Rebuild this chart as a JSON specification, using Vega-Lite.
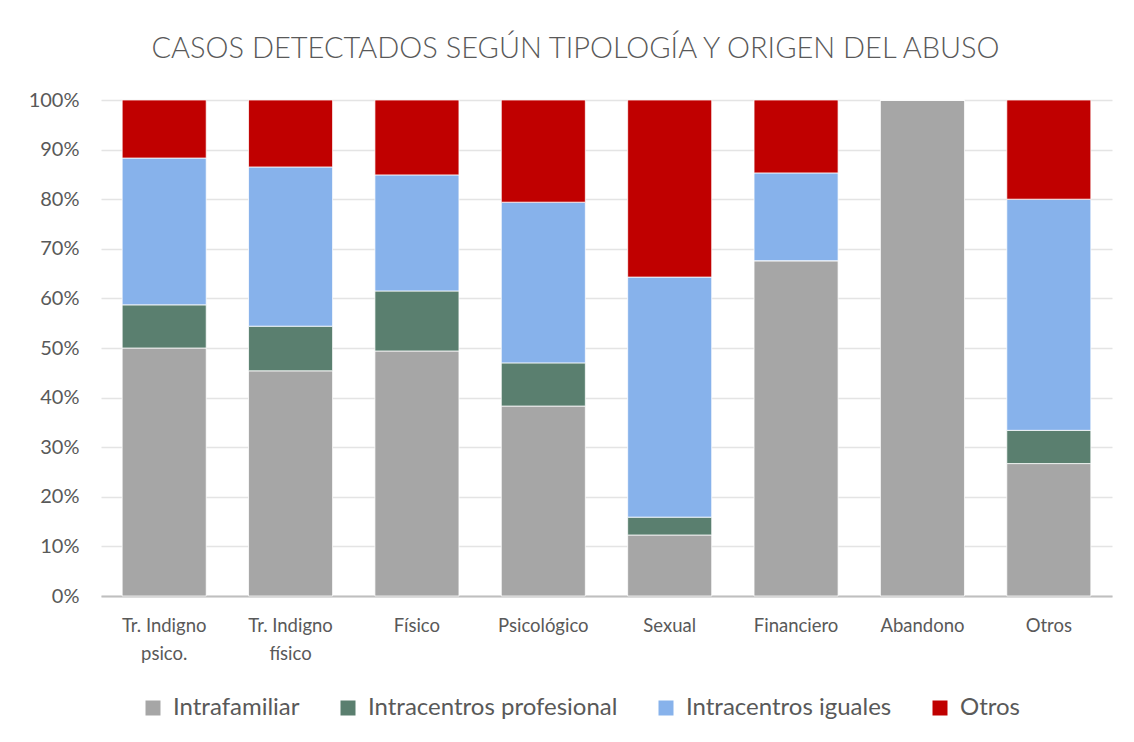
{
  "$schema": "https://vega.github.io/schema/vega-lite/v6.json",
  "width": 1011,
  "height": 496,
  "autosize": {"type": "none"},
  "padding": {"left": 101, "top": 100, "right": 22, "bottom": 146},
  "background": "white",
  "title": {
    "text": "CASOS DETECTADOS SEGÚN TIPOLOGÍA Y ORIGEN DEL ABUSO",
    "font": "Lato",
    "fontSize": 29,
    "fontWeight": 300,
    "color": "#595959",
    "anchor": "middle",
    "frame": "group",
    "dx": -31,
    "offset": 26
  },
  "data": {
    "values": [
      {"tipo": "Tr. Indigno psico.", "origen": "Intrafamiliar", "orden": 1, "v": 0.500},
      {"tipo": "Tr. Indigno psico.", "origen": "Intracentros profesional", "orden": 2, "v": 0.087},
      {"tipo": "Tr. Indigno psico.", "origen": "Intracentros iguales", "orden": 3, "v": 0.296},
      {"tipo": "Tr. Indigno psico.", "origen": "Otros", "orden": 4, "v": 0.117},
      {"tipo": "Tr. Indigno físico", "origen": "Intrafamiliar", "orden": 1, "v": 0.454},
      {"tipo": "Tr. Indigno físico", "origen": "Intracentros profesional", "orden": 2, "v": 0.090},
      {"tipo": "Tr. Indigno físico", "origen": "Intracentros iguales", "orden": 3, "v": 0.321},
      {"tipo": "Tr. Indigno físico", "origen": "Otros", "orden": 4, "v": 0.135},
      {"tipo": "Físico", "origen": "Intrafamiliar", "orden": 1, "v": 0.494},
      {"tipo": "Físico", "origen": "Intracentros profesional", "orden": 2, "v": 0.121},
      {"tipo": "Físico", "origen": "Intracentros iguales", "orden": 3, "v": 0.234},
      {"tipo": "Físico", "origen": "Otros", "orden": 4, "v": 0.151},
      {"tipo": "Psicológico", "origen": "Intrafamiliar", "orden": 1, "v": 0.383},
      {"tipo": "Psicológico", "origen": "Intracentros profesional", "orden": 2, "v": 0.087},
      {"tipo": "Psicológico", "origen": "Intracentros iguales", "orden": 3, "v": 0.324},
      {"tipo": "Psicológico", "origen": "Otros", "orden": 4, "v": 0.206},
      {"tipo": "Sexual", "origen": "Intrafamiliar", "orden": 1, "v": 0.123},
      {"tipo": "Sexual", "origen": "Intracentros profesional", "orden": 2, "v": 0.036},
      {"tipo": "Sexual", "origen": "Intracentros iguales", "orden": 3, "v": 0.484},
      {"tipo": "Sexual", "origen": "Otros", "orden": 4, "v": 0.357},
      {"tipo": "Financiero", "origen": "Intrafamiliar", "orden": 1, "v": 0.676},
      {"tipo": "Financiero", "origen": "Intracentros profesional", "orden": 2, "v": 0.0},
      {"tipo": "Financiero", "origen": "Intracentros iguales", "orden": 3, "v": 0.177},
      {"tipo": "Financiero", "origen": "Otros", "orden": 4, "v": 0.147},
      {"tipo": "Abandono", "origen": "Intrafamiliar", "orden": 1, "v": 1.0},
      {"tipo": "Abandono", "origen": "Intracentros profesional", "orden": 2, "v": 0.0},
      {"tipo": "Abandono", "origen": "Intracentros iguales", "orden": 3, "v": 0.0},
      {"tipo": "Abandono", "origen": "Otros", "orden": 4, "v": 0.0},
      {"tipo": "Otros", "origen": "Intrafamiliar", "orden": 1, "v": 0.267},
      {"tipo": "Otros", "origen": "Intracentros profesional", "orden": 2, "v": 0.067},
      {"tipo": "Otros", "origen": "Intracentros iguales", "orden": 3, "v": 0.466},
      {"tipo": "Otros", "origen": "Otros", "orden": 4, "v": 0.200}
    ]
  },
  "mark": {"type": "bar", "stroke": "white", "strokeWidth": 0.75},
  "encoding": {
    "x": {
      "field": "tipo",
      "type": "nominal",
      "sort": ["Tr. Indigno psico.", "Tr. Indigno físico", "Físico", "Psicológico", "Sexual", "Financiero", "Abandono", "Otros"],
      "scale": {"paddingInner": 0.335, "paddingOuter": 0.1675},
      "axis": {
        "title": null,
        "labelAngle": 0,
        "labelExpr": "datum.label == 'Tr. Indigno psico.' ? ['Tr. Indigno', 'psico.'] : datum.label == 'Tr. Indigno físico' ? ['Tr. Indigno', 'físico'] : datum.label",
        "labelFont": "Lato",
        "labelFontSize": 18.5,
        "labelColor": "#595959",
        "labelPadding": 20,
        "labelLineHeight": 28,
        "ticks": false,
        "domainColor": "#bfbfbf",
        "domainWidth": 2
      }
    },
    "y": {
      "field": "v",
      "type": "quantitative",
      "stack": "zero",
      "scale": {"domain": [0, 1], "nice": false},
      "axis": {
        "title": null,
        "format": ".0%",
        "values": [0, 0.1, 0.2, 0.3, 0.4, 0.5, 0.6, 0.7, 0.8, 0.9, 1.0],
        "labelFont": "Lato",
        "labelFontSize": 20,
        "labelColor": "#595959",
        "labelPadding": 22,
        "ticks": false,
        "domain": false,
        "grid": true,
        "gridColor": "#e4e4e4",
        "gridWidth": 1.5
      }
    },
    "color": {
      "field": "origen",
      "type": "nominal",
      "sort": ["Intrafamiliar", "Intracentros profesional", "Intracentros iguales", "Otros"],
      "scale": {
        "domain": ["Intrafamiliar", "Intracentros profesional", "Intracentros iguales", "Otros"],
        "range": ["#a6a6a6", "#5a7f6f", "#87b2eb", "#c00000"]
      },
      "legend": {
        "title": null,
        "orient": "none",
        "direction": "horizontal",
        "legendX": 40,
        "legendY": 596,
        "symbolType": "square",
        "symbolSize": 225,
        "symbolStrokeWidth": 0,
        "symbolOpacity": 1,
        "labelFont": "Lato",
        "labelFontSize": 24,
        "labelColor": "#595959",
        "labelOffset": 8,
        "labelLimit": 0,
        "columnPadding": 36
      }
    },
    "order": {"field": "orden", "type": "quantitative", "sort": "ascending"}
  },
  "config": {"view": {"stroke": null}}
}
